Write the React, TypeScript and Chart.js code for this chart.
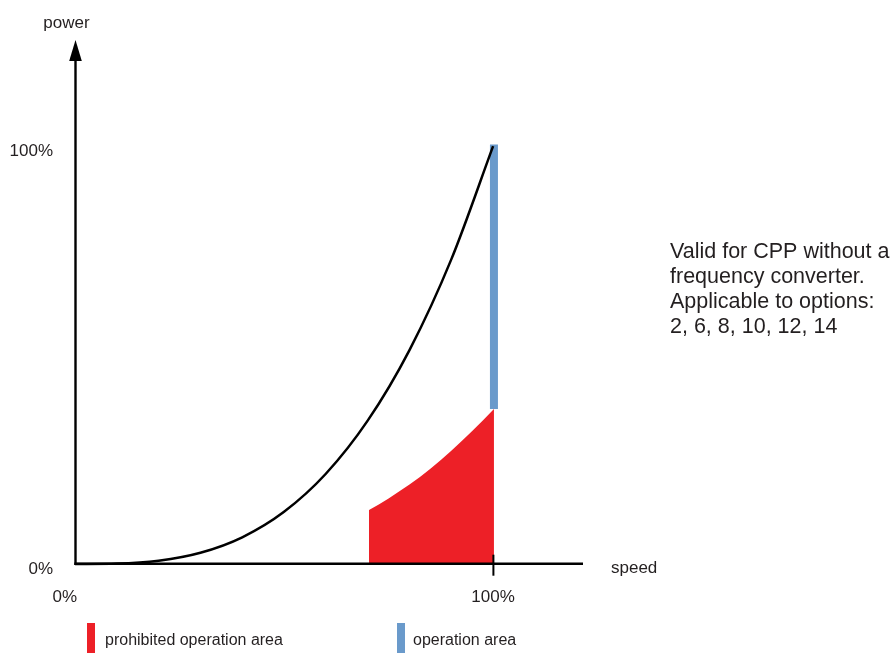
import React, { useEffect, useRef } from "react";
import { Chart, registerables } from "chart.js";

Chart.register(...registerables);

// Speed (%) vs power (%)
const curveSpeed = [0, 10, 20, 30, 40, 50, 60, 70, 80, 90, 100];
const curvePower = [0, 0.1, 0.8, 2.7, 6.4, 12.5, 21.6, 34.3, 51.2, 72.9, 100];

// prohibited operation area (top edge)
const prohibitedSpeed = [70.3, 75, 80, 85, 90, 95, 100.2];
const prohibitedPower = [12.9, 15.7, 19.0, 22.8, 27.1, 31.8, 37.1];

// operation area (vertical band at 100% speed)
const operationSpeed = [100.2, 100.2];
const operationPower = [37.1, 100.4];

const xTickValues = [0, 100];
const xTickLabels = ["0%", "100%"];
const yTickValues = [0, 100];
const yTickLabels = ["0%", "100%"];

const xAxisTitle = "speed";
const yAxisTitle = "power";
const legendLabels = ["prohibited operation area", "operation area"];
const noteLines = [
  "Valid for CPP without a",
  "frequency converter.",
  "Applicable to options:",
  "2, 6, 8, 10, 12, 14",
];

const RED = "#ED2027";
const BLUE = "#6A9ACB";
const TEXT = "#231F20";
const FONT = "'Liberation Sans', Arial, Helvetica, sans-serif";

const decorPlugin = {
  id: "decor",
  afterDatasetsDraw(chart: any) {
    const ctx = chart.ctx as CanvasRenderingContext2D;
    const xs = chart.scales.x;
    const ys = chart.scales.y;
    const area = chart.chartArea;
    const x0 = xs.getPixelForValue(0) + 0.5;
    const y0 = ys.getPixelForValue(0) - 0.3;
    ctx.save();
    ctx.strokeStyle = "#000";
    ctx.fillStyle = "#000";
    // y axis
    ctx.lineWidth = 2.4;
    ctx.beginPath();
    ctx.moveTo(x0, y0 + 1.2);
    ctx.lineTo(x0, area.top + 20);
    ctx.stroke();
    // arrow
    ctx.beginPath();
    ctx.moveTo(x0, area.top);
    ctx.lineTo(x0 - 6.3, area.top + 21);
    ctx.lineTo(x0 + 6.3, area.top + 21);
    ctx.closePath();
    ctx.fill();
    // x axis
    ctx.lineWidth = 2.5;
    ctx.beginPath();
    ctx.moveTo(x0 - 1.2, y0);
    ctx.lineTo(area.right, y0);
    ctx.stroke();
    // tick at 100%
    const xt = xs.getPixelForValue(100) + 0.3;
    ctx.lineWidth = 2;
    ctx.beginPath();
    ctx.moveTo(xt, y0 - 9);
    ctx.lineTo(xt, y0 + 12);
    ctx.stroke();

    // labels
    ctx.fillStyle = TEXT;
    ctx.font = `17px ${FONT}`;
    ctx.textBaseline = "alphabetic";
    yTickValues.forEach((v, i) => {
      ctx.textAlign = "right";
      ctx.fillText(yTickLabels[i], 53, ys.getPixelForValue(v) + 9.5);
    });
    xTickValues.forEach((v, i) => {
      const px = xs.getPixelForValue(v);
      if (v === 0) {
        ctx.textAlign = "right";
        ctx.fillText(xTickLabels[i], px + 2, y0 + 38);
      } else {
        ctx.textAlign = "center";
        ctx.fillText(xTickLabels[i], px, y0 + 38);
      }
    });
    ctx.textAlign = "center";
    ctx.fillText(yAxisTitle, 66.5, 28);
    ctx.textAlign = "left";
    ctx.fillText(xAxisTitle, 611, 573);

    // legend
    ctx.font = `16px ${FONT}`;
    ctx.fillStyle = RED;
    ctx.fillRect(87, 623, 8, 30);
    ctx.fillStyle = BLUE;
    ctx.fillRect(397, 623, 8, 30);
    ctx.fillStyle = TEXT;
    ctx.fillText(legendLabels[0], 105, 645);
    ctx.fillText(legendLabels[1], 413, 645);

    // note
    ctx.font = `21.5px ${FONT}`;
    noteLines.forEach((line, i) => {
      ctx.fillText(line, 670, 258 + i * 25);
    });
    ctx.restore();
  },
};

export default function App() {
  const ref = useRef<HTMLCanvasElement | null>(null);
  useEffect(() => {
    if (!ref.current) return;
    const chart = new Chart(ref.current, {
      type: "line",
      data: {
        datasets: [
          {
            label: legendLabels[0],
            data: prohibitedSpeed.map((s, i) => ({ x: s, y: prohibitedPower[i] })),
            borderWidth: 0,
            borderColor: RED,
            backgroundColor: RED,
            fill: "origin",
            pointRadius: 0,
            cubicInterpolationMode: "monotone",
            clip: false,
            order: 3,
          },
          {
            label: legendLabels[1],
            data: operationSpeed.map((s, i) => ({ x: s, y: operationPower[i] })),
            borderWidth: 8,
            borderColor: BLUE,
            borderCapStyle: "butt",
            fill: false,
            pointRadius: 0,
            clip: false,
            order: 2,
          },
          {
            label: "power curve",
            data: curveSpeed.map((s, i) => ({ x: s, y: curvePower[i] })),
            borderWidth: 2.5,
            borderColor: "#000",
            fill: false,
            pointRadius: 0,
            cubicInterpolationMode: "monotone",
            clip: false,
            order: 1,
          },
        ],
      },
      options: {
        responsive: false,
        animation: false,
        layout: { padding: { left: 75, right: 309, top: 40, bottom: 89 } },
        plugins: { legend: { display: false }, tooltip: { enabled: false } },
        scales: {
          x: { type: "linear", min: 0, max: 121.5, display: false },
          y: { type: "linear", min: 0, max: 125.4, display: false },
        },
      },
      plugins: [decorPlugin],
    } as any);
    return () => chart.destroy();
  }, []);
  return (
    <div style={{ position: "fixed", left: 0, top: 0, width: 892, height: 653, background: "#fff" }}>
      <canvas ref={ref} width={892} height={653} />
    </div>
  );
}
